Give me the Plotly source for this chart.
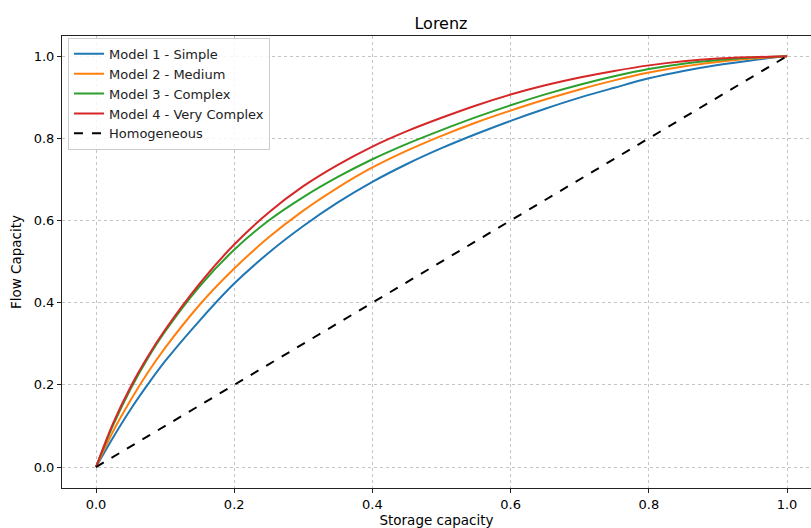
import plotly.graph_objects as go

# Storage capacity (x) grid
storage = [0.0, 0.025, 0.05, 0.075, 0.1, 0.15, 0.2, 0.25, 0.3, 0.35, 0.4, 0.45,
           0.5, 0.55, 0.6, 0.65, 0.7, 0.75, 0.8, 0.85, 0.9, 0.95, 1.0]

model1_simple = [0.0, 0.0725, 0.140, 0.201, 0.2575, 0.3565, 0.4465, 0.5215, 0.5865, 0.644, 0.694, 0.7375,
                 0.776, 0.8105, 0.8425, 0.872, 0.899, 0.923, 0.946, 0.964, 0.9785, 0.990, 1.0]
model2_medium = [0.0, 0.0875, 0.1625, 0.230, 0.290, 0.395, 0.483, 0.559, 0.624, 0.680, 0.729, 0.770,
                 0.806, 0.8385, 0.8675, 0.8945, 0.919, 0.941, 0.960, 0.975, 0.986, 0.994, 1.0]
model3_complex = [0.0, 0.1025, 0.190, 0.265, 0.330, 0.440, 0.529, 0.600, 0.657, 0.706, 0.749, 0.7865,
                  0.820, 0.8515, 0.8805, 0.907, 0.9305, 0.951, 0.9685, 0.9815, 0.9905, 0.9965, 1.0]
model4_very_complex = [0.0, 0.1075, 0.195, 0.269, 0.334, 0.4465, 0.5415, 0.6195, 0.6835, 0.7355, 0.780, 0.8175,
                       0.850, 0.880, 0.9065, 0.929, 0.948, 0.964, 0.9775, 0.9875, 0.994, 0.9975, 1.0]

homogeneous_x = [0.0, 1.0]
homogeneous_y = [0.0, 1.0]

series_names = ["Model 1 - Simple", "Model 2 - Medium", "Model 3 - Complex", "Model 4 - Very Complex"]
series_values = [model1_simple, model2_medium, model3_complex, model4_very_complex]
colors = ["#1f77b4", "#ff7f0e", "#2ca02c", "#d62728"]

tick_vals = [0.0, 0.2, 0.4, 0.6, 0.8, 1.0]
tick_text = ["0.0", "0.2", "0.4", "0.6", "0.8", "1.0"]

FONT = "DejaVu Sans"

fig = go.Figure()
for name, vals, col in zip(series_names, series_values, colors):
    fig.add_trace(go.Scatter(x=storage, y=vals, mode="lines", name=name,
                             line=dict(color=col, width=2, shape="spline", smoothing=1.0)))
fig.add_trace(go.Scatter(x=homogeneous_x, y=homogeneous_y, mode="lines", name="Homogeneous",
                         line=dict(color="black", width=2, dash="dash")))

fig.update_layout(
    width=811, height=528,
    margin=dict(l=62, r=0, t=36, b=40),
    paper_bgcolor="white", plot_bgcolor="white",
    font=dict(family=FONT, size=13, color="black"),
    title=dict(text="Lorenz", x=0.506, xref="paper", xanchor="center",
               y=0.956, yref="container", yanchor="middle",
               font=dict(family=FONT, size=16, color="black")),
    showlegend=True,
    legend=dict(x=0.008, y=0.996, xanchor="left", yanchor="top",
                bgcolor="rgba(255,255,255,0.85)", bordercolor="#cccccc", borderwidth=1,
                font=dict(family=FONT, size=13, color="#222222"),
                tracegroupgap=0, itemwidth=30),
)

fig.update_xaxes(
    range=[-0.0492, 1.0347], tickvals=tick_vals, ticktext=tick_text,
    showline=True, linecolor="#222222", linewidth=1, mirror=True,
    ticks="outside", ticklen=4, tickcolor="#222222",
    showgrid=True, gridcolor="#c4c4c4", gridwidth=0.8, griddash="dot",
    zeroline=False,
    title=dict(text="Storage capacity", font=dict(family=FONT, size=13.5), standoff=6),
)
fig.update_yaxes(
    range=[-0.051, 1.049], tickvals=tick_vals, ticktext=tick_text,
    showline=True, linecolor="#222222", linewidth=1, mirror=False,
    ticks="outside", ticklen=4, tickcolor="#222222",
    showgrid=True, gridcolor="#c4c4c4", gridwidth=0.8, griddash="dot",
    zeroline=False,
    title=dict(text="Flow Capacity", font=dict(family=FONT, size=13.5), standoff=8),
)

fig.write_html("out.html")
